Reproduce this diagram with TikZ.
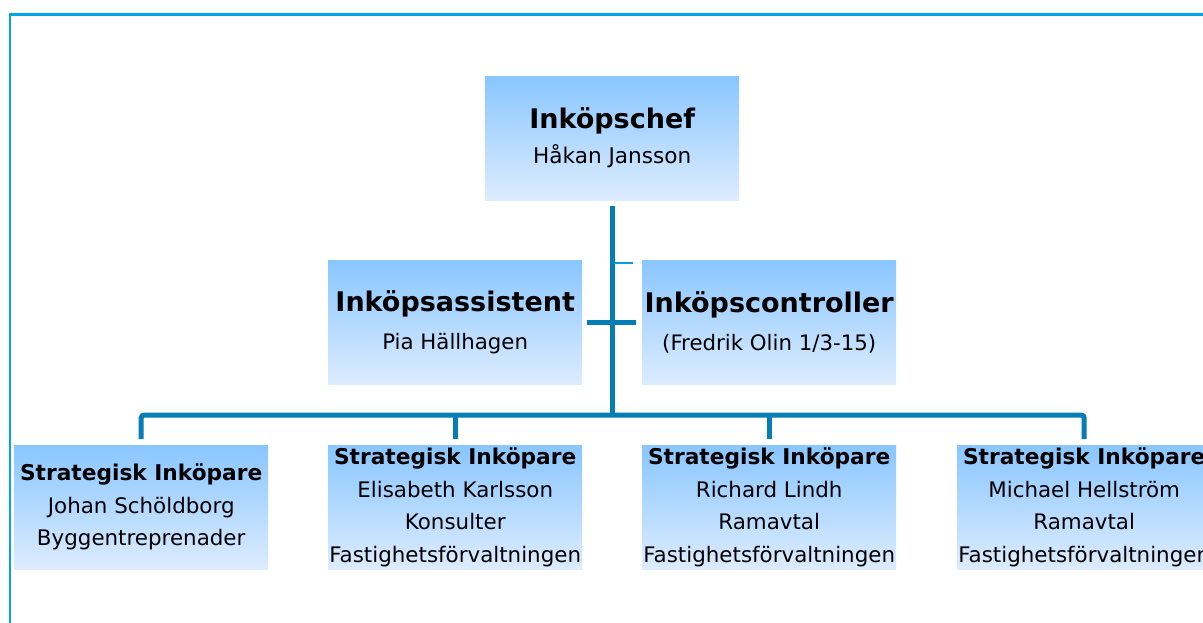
\documentclass[tikz,border=0pt]{standalone}
\usepackage{fontspec}
\setmainfont{DejaVu Sans}
\definecolor{boxtop}{RGB}{137,198,255}
\definecolor{boxbot}{RGB}{221,236,255}
\definecolor{linkblue}{RGB}{6,125,180}
\definecolor{framecyan}{RGB}{0,166,230}
\tikzset{
  post/.style={anchor=north west, minimum width=254pt, minimum height=124pt,
    inner sep=0pt, align=center, top color=boxtop, bottom color=boxbot, draw=none},
  link/.style={draw=linkblue, line width=5pt},
}
\newcommand{\bigttl}[2]{{\fontsize{#1}{35}\selectfont\bfseries #2}}

\begin{document}
\begin{tikzpicture}[x=1pt,y=1pt]
  \useasboundingbox (0,0) rectangle (1203,-623);
  \draw[framecyan, line width=2.2pt] (10,-14.5) rectangle (1240,-660);

  % top and staff
  \node[post, font=\fontsize{21.6}{35}\selectfont] (chef) at (485,-76) {\bigttl{27}{Inköpschef}\\Håkan Jansson};
  \node[post, font=\fontsize{21.3}{38}\selectfont] (assistent) at (328,-260) {\bigttl{27}{Inköpsassistent}\\Pia Hällhagen};
  \node[post, font=\fontsize{21.3}{38}\selectfont] (controller) at (642,-260) {\bigttl{27}{Inköpscontroller}\\(Fredrik Olin 1/3-15)};

  % strategic buyers
  \node[post, font=\fontsize{21.4}{32.5}\selectfont] (sip1) at (14,-445) {\textbf{\fontsize{21.7}{32.5}\selectfont Strategisk Inköpare}\\Johan Schöldborg\\Byggentreprenader};
  \node[post, font=\fontsize{21.4}{32.5}\selectfont] (sip2) at (328,-445) {\textbf{\fontsize{21.7}{32.5}\selectfont Strategisk Inköpare}\\Elisabeth Karlsson\\Konsulter\\Fastighetsförvaltningen};
  \node[post, font=\fontsize{21.4}{32.5}\selectfont] (sip3) at (642,-445) {\textbf{\fontsize{21.7}{32.5}\selectfont Strategisk Inköpare}\\Richard Lindh\\Ramavtal\\Fastighetsförvaltningen};
  \node[post, font=\fontsize{21.4}{32.5}\selectfont] (sip4) at (957,-445) {\textbf{\fontsize{21.7}{32.5}\selectfont Strategisk Inköpare}\\Michael Hellström\\Ramavtal\\Fastighetsförvaltningen};

  \coordinate (fork) at (chef.south |- 0,-415);
  \coordinate (tick) at (614,-263);

  \draw[link] ([yshift=-6pt]chef.south) -- (fork);
  \draw[link] ([xshift=5pt]assistent.east) -- ([xshift=-6pt]controller.west);
  \draw[framecyan!85!linkblue, line width=1.2pt] (tick) -- ++(19,0);
  \draw[link, rounded corners=3pt] ([yshift=6pt]sip1.north) |- (fork) -| ([yshift=6pt]sip4.north);
  \draw[link] ([yshift=6pt]sip2.north) -- (sip2.north |- fork);
  \draw[link] ([yshift=6pt]sip3.north) -- (sip3.north |- fork);
\end{tikzpicture}
\end{document}
